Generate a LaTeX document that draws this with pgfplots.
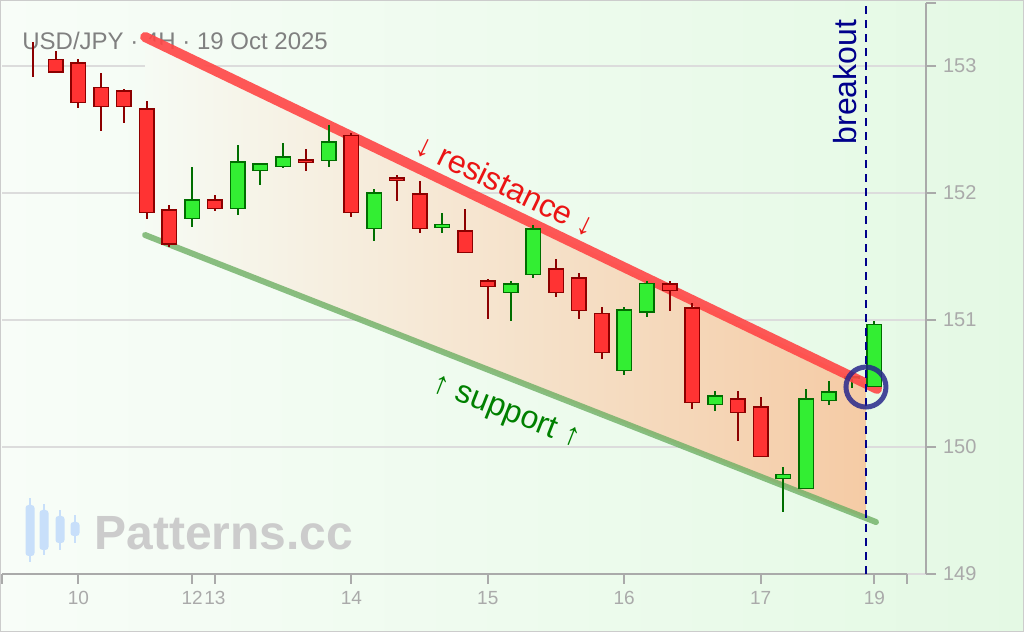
\documentclass[border=0pt]{standalone}
\usepackage{pgfplots}
\pgfplotsset{compat=1.18}
\usepackage{pgfplotstable}
\usepackage{fontspec}
\setmainfont{Liberation Sans}
\definecolor{bgL}{RGB}{248,253,248}
\definecolor{bgR}{RGB}{228,249,228}
\definecolor{axgray}{RGB}{170,170,170}
\definecolor{gridgray}{RGB}{220,220,220}
\definecolor{gfill}{RGB}{51,238,51}
\definecolor{gline}{RGB}{0,110,0}
\definecolor{rfill}{RGB}{255,51,51}
\definecolor{rline}{RGB}{140,0,0}
\definecolor{resc}{RGB}{255,70,70}
\definecolor{supc}{RGB}{110,175,100}
\definecolor{peach}{RGB}{245,203,165}
\definecolor{peachL}{RGB}{246,251,244}
\definecolor{iconblue}{RGB}{200,223,250}

\pgfplotstableread{
x o h l c
0 153.05 153.186 152.910 153.05
1 153.052 153.115 152.942 152.942
2 153.028 153.052 152.666 152.706
3 152.832 152.942 152.485 152.674
4 152.808 152.816 152.548 152.674
5 152.666 152.721 151.793 151.840
6 151.872 151.903 151.573 151.589
8 151.950 151.982 151.856 151.872
12 152.265 152.344 152.171 152.234
14 152.454 152.470 151.809 151.840
16 152.124 152.139 151.935 152.092
17 151.998 152.092 151.683 151.714
19 151.707 151.872 151.526 151.526
20 151.313 151.321 151.006 151.258
23 151.408 151.478 151.179 151.211
24 151.337 151.368 151.006 151.069
25 151.054 151.101 150.692 150.739
28 151.290 151.305 151.069 151.227
29 151.101 151.132 150.298 150.345
31 150.385 150.440 150.046 150.267
32 150.322 150.393 149.921 149.921
}\reddata

\pgfplotstableread{
x o h l c
7 151.793 152.202 151.730 151.950
9 151.872 152.375 151.825 152.249
10 152.171 152.234 152.061 152.234
11 152.202 152.391 152.194 152.289
13 152.249 152.533 152.202 152.407
15 151.714 152.029 151.620 152.005
18 151.722 151.840 151.683 151.754
21 151.211 151.305 150.991 151.290
22 151.352 151.746 151.329 151.722
26 150.597 151.101 150.566 151.085
27 151.054 151.305 151.022 151.290
30 150.330 150.440 150.282 150.408
33 149.747 149.842 149.488 149.787
34 149.669 150.456 149.669 150.385
35 150.361 150.518 150.330 150.440
37 150.471 150.991 150.471 150.967
}\greendata

\pgfplotstableread{
x o h l c
36 150.534 150.580 150.463 150.558
}\hiddendata

\newcommand{\candles}[3]{%
 \addplot[draw=none, mark=none, forget plot,
   error bars/.cd, y dir=both, y explicit, error mark=none,
   error bar style={line width=1pt, draw=#3, solid}]
   table[x=x, y expr={(\thisrow{h}+\thisrow{l})/2}, y error expr={(\thisrow{h}-\thisrow{l})/2}] {#1};
 \addplot[draw=none, mark=none, forget plot,
   error bars/.cd, y dir=both, y explicit, error mark=none,
   error bar style={line width=8pt, draw=#3, solid}]
   table[x=x, y expr={(\thisrow{o}+\thisrow{c})/2}, y error expr={abs(\thisrow{o}-\thisrow{c})/2}] {#1};
 \addplot[draw=none, mark=none, forget plot,
   error bars/.cd, y dir=both, y explicit, error mark=none,
   error bar style={line width=6.5pt, draw=#2, solid}]
   table[x=x, y expr={(\thisrow{o}+\thisrow{c})/2}, y error expr={max(abs(\thisrow{o}-\thisrow{c})/2-0.0118,0)}] {#1};
}

\begin{document}
\begin{tikzpicture}
\path[use as bounding box] (0,0) rectangle (512pt,316pt);
\fill[left color=bgL, right color=bgR] (0,0) rectangle (512pt,316pt);
\draw[gray!40, line width=0.6pt] (0.3pt,0.3pt) rectangle (511.7pt,315.7pt);

% watermark
\begin{scope}[iconblue]
 \fill[rounded corners=1.5pt] (12.75pt,38pt) rectangle (17.25pt,63.5pt);
 \draw[line width=0.7pt] (15pt,35pt) -- (15pt,67pt);
 \fill[rounded corners=1.5pt] (19.75pt,41pt) rectangle (24.25pt,61pt);
 \draw[line width=0.7pt] (22pt,38.5pt) -- (22pt,64pt);
 \fill[rounded corners=1.5pt] (27.75pt,44.5pt) rectangle (32.25pt,58pt);
 \draw[line width=0.7pt] (30pt,41pt) -- (30pt,61pt);
 \fill[rounded corners=1.5pt] (35.25pt,48pt) rectangle (39.75pt,55pt);
 \draw[line width=0.7pt] (37.5pt,44.5pt) -- (37.5pt,58.5pt);
\end{scope}
\node[anchor=west, inner sep=0pt, text=black!20, font=\fontsize{24}{28}\bfseries\selectfont] at (47pt,49.5pt) {Patterns.cc};

\node[anchor=west, inner sep=0pt, text=black!50, font=\fontsize{12}{14}\selectfont] at (11pt,295.5pt) {USD/JPY · 4H · 19 Oct 2025};

\begin{axis}[
  at={(1pt,29pt)}, anchor=south west,
  scale only axis, width=462pt, height=285.5pt,
  xmin=-1.363, xmax=39.27, ymin=149, ymax=153.4926,
  clip=false,
  axis x line*=bottom, axis y line*=right,
  x axis line style={draw=none},
  y axis line style={draw=axgray, line width=1pt, -},
  tick align=outside, major tick length=5pt,
  tick style={draw=axgray, line width=1pt},
  xtick={2,7,8,14,20,26,32,37},
  xticklabels={10,12,13,14,15,16,17,19},
  extra x ticks={-1.36,38.43}, extra x tick labels={},
  extra x tick style={grid=none},
  ytick={149,150,151,152,153},
  extra y ticks={153.4926}, extra y tick labels={},
  extra y tick style={grid=none},
  ymajorgrids, grid style={draw=gridgray, line width=1pt},
  /pgf/number format/assume math mode=true,
  x tick label style={font=\fontsize{9.5}{11}\selectfont, text=axgray},
  y tick label style={font=\fontsize{10}{12}\selectfont, text=axgray},
]
% x axis line
\draw[axgray, line width=1pt] (axis cs:-1.363,149) -- (axis cs:38.43,149);

% channel fill
\addplot[draw=none, left color=peachL, right color=peach, forget plot]
  coordinates {(4.93,153.225) (36.63,150.497) (36.63,149.437) (4.93,151.667)} -- cycle;

\candles{\hiddendata}{gfill}{gline}

% channel lines
\addplot[resc, line width=5pt, line cap=round, opacity=0.9, forget plot]
  coordinates {(4.93,153.225) (37.12,150.456)};
\addplot[supc, line width=3pt, line cap=round, opacity=0.8, forget plot]
  coordinates {(4.93,151.667) (37.07,149.409)};

\candles{\reddata}{rfill}{rline}
\candles{\greendata}{gfill}{gline}

% breakout line
\addplot[color={rgb,255:red,0;green,0;blue,139}, line width=1pt, dash pattern=on 4pt off 3pt, forget plot]
  coordinates {(36.63,149) (36.63,153.515)};
\addplot[only marks, mark=o, mark size=10pt, mark options={line width=2.5pt, draw={rgb,255:red,40;green,40;blue,140}, draw opacity=0.85}, forget plot]
  coordinates {(36.63,150.471)};

\node[rotate=90, text={rgb,255:red,0;green,0;blue,139}, font=\fontsize{16}{19}\selectfont, inner sep=0pt] at (axis cs:35.71,152.871) {breakout};
\node[rotate=-25.7, text={rgb,255:red,235;green,20;blue,20}, font=\fontsize{16}{19}\selectfont, inner sep=0pt] at (axis cs:20.8,152.06) {↓ resistance ↓};
\node[rotate=-21.5, text={rgb,255:red,0;green,128;blue,0}, font=\fontsize{16}{19}\selectfont, inner sep=0pt] at (axis cs:20.8,150.27) {↑ support ↑};
\end{axis}
\end{tikzpicture}
\end{document}
